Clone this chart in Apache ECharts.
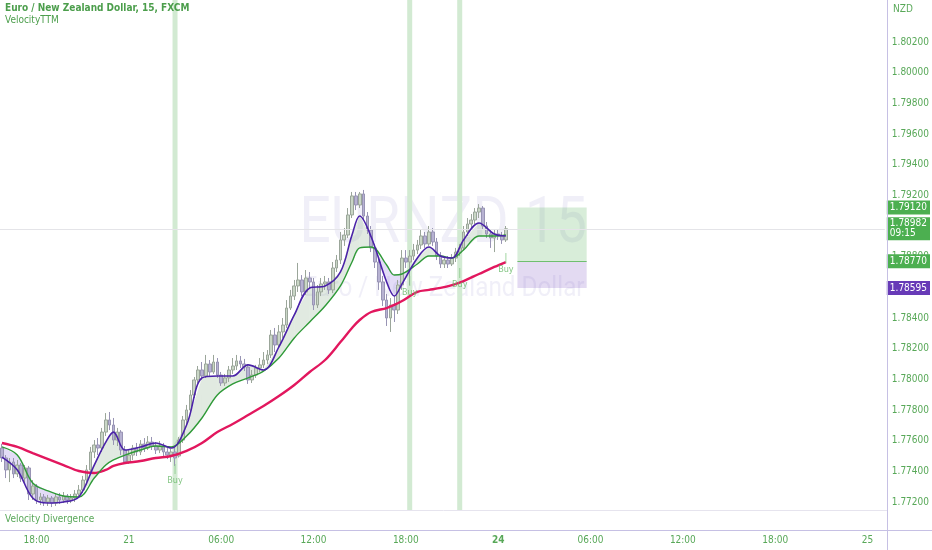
<!DOCTYPE html>
<html><head><meta charset="utf-8">
<script src="https://cdn.jsdelivr.net/npm/echarts@6/dist/echarts.min.js"></script>
<style>html,body{margin:0;padding:0;background:#fff}#c{width:932px;height:550px}</style>
</head><body><div id="c"></div>
<script>
const FONT = "'Liberation Sans Narrow','DejaVu Sans Condensed',Roboto,sans-serif";
const TXT = '#58a858';

const nSlots = 230;
const xTickIdx = [9, 33, 57, 81, 105, 129, 153, 177, 201, 225];
const xTickLabels = ["18:00", "21", "06:00", "12:00", "18:00", "24", "06:00", "12:00", "18:00", "25"];
const xBoldLabels = ["24"];
const yTicks = [1.772, 1.774, 1.776, 1.778, 1.780, 1.782, 1.784, 1.786, 1.788, 1.790, 1.792, 1.794, 1.796, 1.798, 1.800, 1.802];
const yMin = 1.771478, yMax = 1.804739;

// [open, close, low, high]
const candles = [
[1.77552,1.77487,1.77461,1.77578],[1.77487,1.77409,1.77356,1.77506],[1.77409,1.77461,1.77330,1.77487],[1.77461,1.77383,1.77356,1.77487],
[1.77383,1.77441,1.77363,1.77474],[1.77441,1.77356,1.77330,1.77454],[1.77356,1.77422,1.77324,1.77441],[1.77422,1.77252,1.77213,1.77435],
[1.77252,1.77304,1.77213,1.77343],[1.77304,1.77213,1.77187,1.77317],[1.77213,1.77233,1.77180,1.77259],[1.77233,1.77200,1.77174,1.77252],
[1.77200,1.77226,1.77174,1.77246],[1.77226,1.77193,1.77167,1.77239],[1.77193,1.77233,1.77174,1.77252],[1.77233,1.77213,1.77187,1.77259],
[1.77213,1.77239,1.77193,1.77265],[1.77239,1.77213,1.77187,1.77252],[1.77213,1.77226,1.77193,1.77252],[1.77226,1.77252,1.77200,1.77278],
[1.77252,1.77278,1.77226,1.77311],[1.77278,1.77343,1.77259,1.77370],[1.77343,1.77409,1.77317,1.77441],[1.77409,1.77526,1.77383,1.77559],
[1.77526,1.77572,1.77487,1.77604],[1.77572,1.77552,1.77506,1.77617],[1.77552,1.77656,1.77526,1.77683],[1.77656,1.77735,1.77630,1.77780],
[1.77735,1.77702,1.77669,1.77787],[1.77702,1.77604,1.77572,1.77748],[1.77604,1.77656,1.77565,1.77683],[1.77656,1.77539,1.77506,1.77669],
[1.77539,1.77461,1.77448,1.77565],[1.77461,1.77506,1.77448,1.77539],[1.77506,1.77552,1.77474,1.77572],[1.77552,1.77526,1.77500,1.77585],
[1.77526,1.77578,1.77506,1.77604],[1.77578,1.77552,1.77526,1.77617],[1.77552,1.77591,1.77539,1.77630],[1.77591,1.77565,1.77539,1.77624],
[1.77565,1.77539,1.77513,1.77591],[1.77539,1.77565,1.77519,1.77598],[1.77565,1.77526,1.77500,1.77585],[1.77526,1.77506,1.77480,1.77552],
[1.77506,1.77526,1.77461,1.77546],[1.77526,1.77487,1.77435,1.77559],[1.77500,1.77604,1.77490,1.77624],[1.77604,1.77735,1.77585,1.77761],
[1.77735,1.77800,1.77702,1.77833],[1.77800,1.77898,1.77787,1.77930],[1.77898,1.77996,1.77878,1.78015],[1.77996,1.78061,1.77976,1.78087],
[1.78061,1.78022,1.77996,1.78113],[1.78022,1.78100,1.78009,1.78159],[1.78100,1.78048,1.78022,1.78126],[1.78048,1.78113,1.78035,1.78159],
[1.78113,1.78028,1.78009,1.78139],[1.78028,1.77976,1.77957,1.78048],[1.77976,1.78009,1.77957,1.78035],[1.78009,1.78061,1.77983,1.78087],
[1.78061,1.78087,1.78035,1.78139],[1.78087,1.78120,1.78061,1.78159],[1.78120,1.78100,1.78074,1.78152],[1.78100,1.78080,1.78054,1.78133],
[1.78080,1.77996,1.77970,1.78100],[1.77996,1.78028,1.77976,1.78061],[1.78028,1.78074,1.78009,1.78094],[1.78074,1.78094,1.78048,1.78139],
[1.78094,1.78126,1.78074,1.78178],[1.78126,1.78159,1.78100,1.78191],[1.78159,1.78289,1.78139,1.78322],[1.78289,1.78224,1.78178,1.78335],
[1.78224,1.78309,1.78204,1.78354],[1.78309,1.78354,1.78270,1.78400],[1.78354,1.78465,1.78335,1.78517],[1.78465,1.78543,1.78452,1.78583],
[1.78543,1.78609,1.78517,1.78648],[1.78609,1.78648,1.78570,1.78759],[1.78648,1.78570,1.78543,1.78680],[1.78570,1.78661,1.78550,1.78713],
[1.78661,1.78635,1.78596,1.78700],[1.78635,1.78485,1.78452,1.78661],[1.78485,1.78570,1.78465,1.78615],[1.78570,1.78622,1.78543,1.78661],
[1.78622,1.78635,1.78583,1.78674],[1.78635,1.78583,1.78557,1.78661],[1.78583,1.78726,1.78563,1.78765],[1.78726,1.78778,1.78700,1.78811],
[1.78778,1.78909,1.78752,1.78961],[1.78909,1.78941,1.78870,1.78987],[1.78941,1.79072,1.78922,1.79117],[1.79072,1.79196,1.79052,1.79222],
[1.79196,1.79137,1.79104,1.79222],[1.79137,1.79209,1.79117,1.79222],[1.79209,1.79065,1.79039,1.79235],[1.79065,1.78974,1.78948,1.79091],
[1.78974,1.78857,1.78830,1.79000],[1.78857,1.78765,1.78726,1.78883],[1.78765,1.78635,1.78583,1.78791],[1.78635,1.78517,1.78478,1.78674],
[1.78517,1.78400,1.78348,1.78557],[1.78400,1.78485,1.78309,1.78530],[1.78485,1.78452,1.78374,1.78543],[1.78452,1.78615,1.78426,1.78648],
[1.78615,1.78791,1.78583,1.78843],[1.78791,1.78765,1.78726,1.78843],[1.78765,1.78804,1.78615,1.78843],[1.78804,1.78843,1.78778,1.78883],
[1.78843,1.78876,1.78817,1.78909],[1.78876,1.78935,1.78850,1.78974],[1.78935,1.78883,1.78857,1.78961],[1.78883,1.78961,1.78870,1.79000],
[1.78961,1.78896,1.78870,1.78987],[1.78896,1.78804,1.78778,1.78922],[1.78804,1.78752,1.78726,1.78830],[1.78752,1.78778,1.78726,1.78804],
[1.78778,1.78752,1.78726,1.78804],[1.78752,1.78791,1.78739,1.78817],[1.78791,1.78830,1.78765,1.78857],[1.78830,1.78857,1.78804,1.78883],
[1.78857,1.78961,1.78843,1.79000],[1.78961,1.79013,1.78935,1.79052],[1.79013,1.79039,1.78987,1.79078],[1.79039,1.79091,1.79013,1.79117],
[1.79091,1.79117,1.79052,1.79143],[1.79117,1.79000,1.78974,1.79130],[1.79000,1.78948,1.78922,1.79026],[1.78948,1.78922,1.78857,1.78974],
[1.78922,1.78948,1.78830,1.78980],[1.78948,1.78935,1.78909,1.78974],[1.78935,1.78909,1.78883,1.78961],[1.78909,1.78982,1.78896,1.79000]
];

const lineIdx = [0,4,8,12,16,20,24,27,29,32,36,40,44,48,52,56,60,64,68,72,76,80,84,88,91,93,96,100,102,104,108,111,114,117,120,124,128,131];
const fastLine = [1.77493,1.77409,1.77226,1.77193,1.77200,1.77233,1.77441,1.77591,1.77656,1.77539,1.77559,1.77585,1.77552,1.77702,1.78009,1.78022,1.78022,1.78094,1.78061,1.78211,1.78420,1.78596,1.78609,1.78700,1.78941,1.79065,1.78928,1.78635,1.78543,1.78622,1.78791,1.78863,1.78804,1.78791,1.78909,1.79020,1.78948,1.78935];
const midLine = [1.77559,1.77506,1.77324,1.77272,1.77239,1.77233,1.77356,1.77441,1.77474,1.77506,1.77539,1.77565,1.77559,1.77630,1.77748,1.77898,1.77970,1.78009,1.78054,1.78139,1.78270,1.78374,1.78478,1.78609,1.78765,1.78857,1.78863,1.78746,1.78680,1.78687,1.78752,1.78804,1.78804,1.78791,1.78843,1.78935,1.78935,1.78941];
const slowLine = [1.77585,1.77559,1.77519,1.77480,1.77441,1.77402,1.77389,1.77409,1.77435,1.77454,1.77467,1.77487,1.77500,1.77533,1.77585,1.77656,1.77709,1.77767,1.77826,1.77891,1.77963,1.78048,1.78126,1.78243,1.78335,1.78387,1.78439,1.78465,1.78485,1.78511,1.78570,1.78583,1.78596,1.78615,1.78641,1.78687,1.78733,1.78765];

const signalIdx = [45, 106, 119];
const buyIdx = [45, 106, 119, 131];
const buyPrice = [1.77415, 1.78641, 1.78694, 1.78791];

const lastPrice = 1.78982, lastCountdown = "09:15";
const targetPrice = 1.79120, entryPrice = 1.78770, stopPrice = 1.78595;
const posStart = 134, posEnd = 152;

const cats = Array.from({length: nSlots}, (_, i) => String(i));
const pair = (idx, vals) => idx.map((x, k) => [x, vals[k]]);
const fillData = [];
for (let k = 0; k < lineIdx.length - 1; k++) {
  fillData.push([lineIdx[k], fastLine[k], midLine[k], lineIdx[k+1], fastLine[k+1], midLine[k+1]]);
}
const UPFILL = 'rgba(140,175,140,0.26)', DNFILL = 'rgba(140,110,220,0.24)';

const labelStyle = (bg, text, lh) => ({show: true, position: 'end', distance: 2, formatter: text, color: '#fff',
    backgroundColor: bg, padding: [2, 3, 1, 3], fontSize: 10, fontFamily: FONT, lineHeight: lh || 11});
const priceLabel = (v, bg) => ({
  yAxis: v,
  lineStyle: {color: 'rgba(0,0,0,0)', width: 1},
  label: labelStyle(bg, v.toFixed(5))
});

const chart = echarts.init(document.getElementById('c'), null, {renderer: 'canvas'});
chart.setOption({
  animation: false,
  backgroundColor: '#fff',
  grid: {left: 0, right: 45, top: 0, bottom: 40},
  xAxis: {
    type: 'category', data: cats, boundaryGap: true,
    axisLine: {show: false}, axisTick: {show: false}, splitLine: {show: false},
    axisLabel: {
      interval: (i) => xTickIdx.includes(i),
      formatter: (v, i) => { const t = xTickLabels[xTickIdx.indexOf(i)]; return xBoldLabels.includes(t) ? '{b|' + t + '}' : t; },
      margin: 25, color: TXT, fontSize: 10, fontFamily: FONT,
      rich: {b: {fontWeight: 'bold', color: TXT, fontSize: 10, fontFamily: FONT}}
    }
  },
  yAxis: {
    type: 'value', position: 'right', min: yMin, max: yMax,
    axisLine: {show: false}, axisTick: {show: false}, splitLine: {show: false},
    axisLabel: {customValues: yTicks, formatter: v => v.toFixed(5), color: TXT, fontSize: 10, fontFamily: FONT, margin: 7}
  },
  graphic: [
    {type: 'text', x: 404, y: 226, z: 0, scaleX: 0.86, silent: true,
      style: {text: 'EURNZD', font: '400 64px Roboto', fill: 'rgba(110,100,190,0.10)', align: 'center', verticalAlign: 'middle'}},
    {type: 'text', x: 556, y: 226, z: 0, scaleX: 0.86, silent: true,
      style: {text: '15', font: '400 64px Roboto', fill: 'rgba(110,100,190,0.10)', align: 'center', verticalAlign: 'middle'}},
    {type: 'text', x: 444, y: 289, z: 0, scaleX: 0.9, silent: true,
      style: {text: 'Euro / New Zealand Dollar', font: '400 27px Roboto', fill: 'rgba(110,100,190,0.10)', align: 'center', verticalAlign: 'middle'}},
    {type: 'line', z: 50, shape: {x1: 0, y1: 510.5, x2: 887, y2: 510.5}, style: {stroke: '#e6e4ee', lineWidth: 1}},
    {type: 'line', z: 50, shape: {x1: 0, y1: 530.5, x2: 932, y2: 530.5}, style: {stroke: '#c6c0e4', lineWidth: 1}},
    {type: 'line', z: 50, shape: {x1: 887.5, y1: 0, x2: 887.5, y2: 550}, style: {stroke: '#c6c0e4', lineWidth: 1}},
    {type: 'text', x: 5, y: 3, z: 60, style: {text: 'Euro / New Zealand Dollar, 15, FXCM', font: '600 10px ' + FONT, fill: '#4c9e4c'}},
    {type: 'text', x: 5, y: 15, z: 60, style: {text: 'VelocityTTM', font: '10px ' + FONT, fill: '#4c9e4c'}},
    {type: 'text', x: 5, y: 514, z: 60, style: {text: 'Velocity Divergence', font: '10px ' + FONT, fill: '#5aa85a'}},
    {type: 'text', x: 893, y: 4, z: 60, style: {text: 'NZD', font: '10px ' + FONT, fill: TXT}}
  ],
  series: [
    {type: 'bar', name: 'signal', data: signalIdx.map(i => [i, yMax]), barWidth: 5, z: 1,
      itemStyle: {color: '#d2ead2'}, silent: true},
    {type: 'custom', name: 'fill', data: fillData, z: 2, silent: true,
      encode: {x: [0, 3], y: [1, 2, 4, 5]},
      renderItem: (params, api) => {
        const x0 = api.value(0), p0 = api.value(1), g0 = api.value(2), x1 = api.value(3), p1 = api.value(4), g1 = api.value(5);
        const P0 = api.coord([x0, p0]), G0 = api.coord([x0, g0]), P1 = api.coord([x1, p1]), G1 = api.coord([x1, g1]);
        const d0 = p0 - g0, d1 = p1 - g1;
        const col = d => d >= 0 ? UPFILL : DNFILL;
        const ch = [];
        if (d0 * d1 < 0) {
          const t = d0 / (d0 - d1);
          const M = [P0[0] + t * (P1[0] - P0[0]), P0[1] + t * (P1[1] - P0[1])];
          ch.push({type: 'polygon', shape: {points: [P0, M, G0]}, style: {fill: col(d0)}});
          ch.push({type: 'polygon', shape: {points: [M, P1, G1]}, style: {fill: col(d1)}});
        } else {
          ch.push({type: 'polygon', shape: {points: [P0, P1, G1, G0]}, style: {fill: col(d0 + d1)}});
        }
        return {type: 'group', children: ch};
      }
    },
    {type: 'candlestick', name: 'EURNZD', data: candles, barWidth: 3.2, z: 3,
      itemStyle: {color: '#c9d6c6', color0: '#b7b2d2', borderColor: '#9ba69a', borderColor0: '#9894b4', borderWidth: 1},
      markArea: {silent: true, data: [
        [{coord: [posStart, targetPrice], itemStyle: {color: 'rgba(76,175,80,0.22)'}}, {coord: [posEnd, entryPrice]}],
        [{coord: [posStart, entryPrice], itemStyle: {color: 'rgba(126,87,194,0.22)'}}, {coord: [posEnd, stopPrice]}]
      ]}
    },
    {type: 'line', name: 'slow', data: pair(lineIdx, slowLine), smooth: 0.35, symbol: 'none', z: 4,
      lineStyle: {color: '#e2175e', width: 2.4}},
    {type: 'line', name: 'mid', data: pair(lineIdx, midLine), smooth: 0.35, symbol: 'none', z: 4,
      lineStyle: {color: '#2f9a38', width: 1.4}},
    {type: 'line', name: 'fast', data: pair(lineIdx, fastLine), smooth: 0.35, symbol: 'none', z: 5,
      lineStyle: {color: '#4a22a8', width: 1.6},
      markLine: {silent: true, symbol: 'none', animation: false, precision: 5, data: [
        {yAxis: lastPrice, lineStyle: {color: '#e4e4e8', width: 1, type: 'solid'},
          label: labelStyle('#4caf50', lastPrice.toFixed(5) + '\n' + lastCountdown, 10)},
        priceLabel(targetPrice, '#4caf50'),
        priceLabel(entryPrice, '#4caf50'),
        priceLabel(stopPrice, '#673ab7'),
        [{coord: [posStart, entryPrice], lineStyle: {color: '#6fbf6f', width: 1, type: 'solid'}, label: {show: false}}, {coord: [posEnd, entryPrice]}]
      ]}
    },
    {type: 'scatter', name: 'buy', data: pair(buyIdx, buyPrice), symbol: 'rect', symbolSize: [1, 10], z: 6,
      itemStyle: {color: '#8ccc8c'},
      label: {show: true, position: 'bottom', distance: 2, formatter: 'Buy', color: '#66b866', fontSize: 9, fontFamily: FONT}}
  ]
});
</script></body></html>
